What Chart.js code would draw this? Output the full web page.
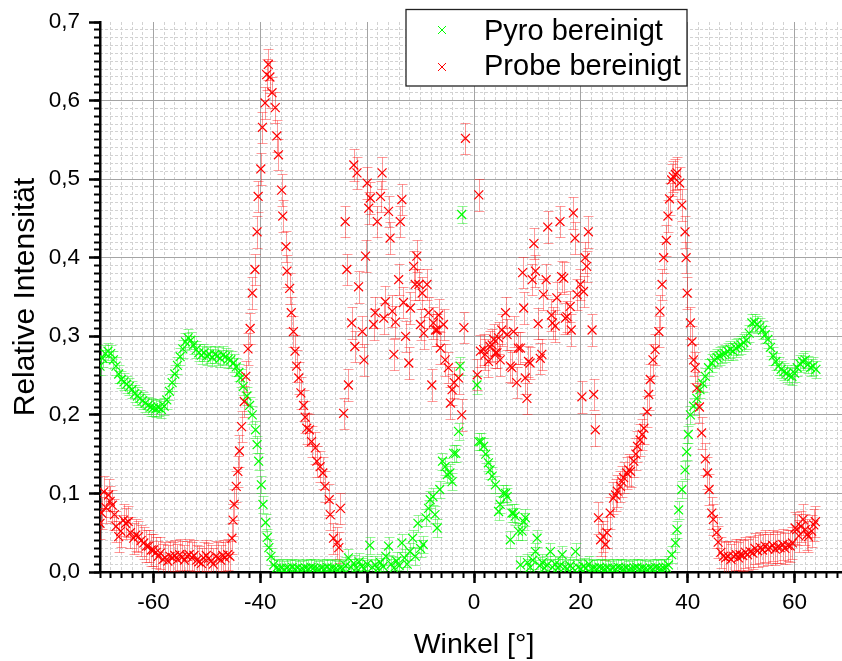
<!DOCTYPE html>
<html><head><meta charset="utf-8">
<script src="https://cdn.jsdelivr.net/npm/chart.js@4/dist/chart.umd.min.js"></script>
<style>html,body{margin:0;padding:0;overflow:hidden;background:#fff}canvas{display:block}</style>
</head><body>
<canvas id="c" width="860" height="661"></canvas>
<script>
const seriesLabels = ['Pyro bereinigt', 'Probe bereinigt'];
const xTitle = 'Winkel [°]';
const yTitle = 'Relative Intensität';
const xTicks = [-60, -40, -20, 0, 20, 40, 60];
const yTicks = [0, 0.1, 0.2, 0.3, 0.4, 0.5, 0.6, 0.7];

const pyroX = [-70,-69.5,-69,-68.5,-68,-67.5,-67,-66.5,-66,-65.5,-65,-64.5,-64,-63.5,-63,-62.5,-62,-61.5,-61,-60.5,-60,-59.5,-59,-58.5,-58,-57.5,-57,-56.5,-56,-55.5,-55,-54.5,-54,-53.5,-53,-52.5,-52,-51.5,-51,-50.5,-50,-49.5,-49,-48.5,-48,-47.5,-47,-46.5,-46,-45.5,-45,
-44.5,-44,-43.7,-43.2,-42.5,-42,-41.5,-40.9,-40.6,-40.3,-39.8,-39.5,-39,-38.7,-38.4,-38,-37.5,-37,
-36.5,-36,-35.5,-35,-34.5,-34,-33.5,-33,-32.5,-32,-31.5,-31,-30.5,-30,-29.5,-29,-28.5,-28,-27.5,-27,-26.5,-26,-25.5,-25,-24.5,
-24,-23.5,-23,-22.5,-22,-21.5,-21,-20.5,-20,-19.5,-19,-18.5,-18,-17.5,-17,-16.5,-16,-15.5,-15,-14.5,-14,-13.5,-13,-12.5,-12,-11.5,-11,-10.5,-10,-9.5,-9,-8.5,-8.2,-7.7,-7.3,-6.9,-6.4,-5.9,-5.4,-5.0,-4.5,-4.1,-3.8,-3.4,-2.9,-2.6,-2.3,
0.55,0.9,1.3,1.8,2.2,2.7,3.0,3.4,4.0,4.6,4.9,5.5,5.9,6.2,6.8,7.1,7.4,7.7,8.3,8.7,9.0,9.3,9.6,10.0,10.5,11.0,11.5,11.8,12.3,12.8,13.2,13.7,14.3,14.7,15.2,15.7,16.1,16.5,17.0,17.5,18.0,18.5,19.0,19.5,20.0,20.5,21.0,21.5,22.0,
22.5,23,23.5,24,24.5,25,25.5,26,26.5,27,27.5,28,28.5,29,29.5,30,30.5,31,31.5,32,32.5,33,33.5,34,34.5,35,35.5,36,
36.4,37.0,37.7,38.0,38.3,38.9,39.5,39.8,40.1,40.5,41.1,41.7,42.3,42.8,43.3,43.9,44.5,45.0,45.5,46.0,46.5,47.0,47.5,48.0,48.5,49.0,49.5,50.0,50.5,51.0,51.5,52.0,52.5,53.0,53.5,54.0,54.5,55.0,55.5,56.0,56.5,57.0,57.5,58.0,58.5,59.0,59.5,60.0,60.5,61.0,61.5,62.0,62.5,63.0,63.5,64.0];
const pyroY = [.262,.272,.278,.281,.278,.270,.262,.252,.245,.242,.239,.236,.232,.227,.224,.221,.218,.215,.212,.210,.209,.208,.209,.207,.211,.219,.230,.241,.252,.263,.274,.284,.293,.298,.295,.289,.283,.279,.276,.279,.275,.277,.273,.277,.275,.272,.276,.274,.271,.270,.266,
.261,.254,.247,.236,.224,.212,.200,.181,.162,.141,.111,.086,.063,.044,.031,.020,.009,.005,
.004,.005,.003,.005,.004,.006,.004,.005,.003,.004,.005,.004,.006,.005,.004,.003,.005,.004,.006,.004,.005,.004,.003,.005,.004,
.008,.018,.006,.011,.005,.013,.007,.004,.010,.034,.006,.009,.004,.012,.007,.020,.033,.010,.005,.014,.008,.037,.018,.010,.026,.043,.020,.062,.030,.035,.069,.081,.092,.096,.073,.056,.105,.141,.134,.124,.126,.115,.151,.151,.179,.262,.455,
.238,.166,.166,.160,.150,.139,.130,.122,.111,.077,.086,.100,.100,.096,.041,.075,.075,.071,.052,.009,.052,.064,.069,.012,.006,.015,.026,.043,.008,.012,.005,.009,.026,.006,.010,.005,.008,.022,.006,.004,.008,.005,.026,.006,.004,.007,.005,.010,.004,
.005,.004,.006,.005,.004,.005,.003,.005,.004,.006,.005,.004,.005,.003,.004,.005,.006,.004,.005,.004,.003,.005,.004,.006,.005,.004,.005,.006,
.009,.022,.037,.054,.079,.105,.130,.153,.175,.200,.211,.221,.232,.240,.249,.260,.266,.270,.273,.275,.277,.278,.281,.283,.281,.285,.287,.289,.292,.295,.304,.317,.318,.315,.312,.308,.302,.296,.286,.275,.268,.262,.258,.255,.253,.250,.249,.253,.260,.265,.268,.270,.264,.260,.262,.258];

const probeX = [-70.0,-69.7,-69.3,-68.9,-68.4,-68.1,-67.7,-67.3,-67.0,-66.5,-66.1,-65.6,-65.2,-64.7,-64.3,-63.7,-63.3,-62.8,-62.3,-61.8,-61.3,-60.9,-60.4,-60.0,-59.5,-59.1,-58.7,-58.2,-57.8,-57.3,-56.9,-56.4,-56.0,-55.5,-55.1,-54.6,-54.2,-53.7,-53.3,-52.8,-52.4,-51.9,-51.5,-51.0,-50.6,-50.1,-49.7,-49.2,-48.8,-48.3,-47.9,-47.4,-47.0,-46.6,-46.1,-45.7,
-45.3,-45.1,-44.9,-44.5,-44.2,-43.9,-43.5,-43.0,-42.7,-42.3,-41.9,-41.5,-41.0,-40.6,-40.4,-39.9,-39.6,-39.1,-38.8,-38.5,-38.2,-37.8,-37.2,-36.9,-36.6,-36.0,-35.8,-35.2,-35.0,-34.5,-34.2,-33.8,-33.5,-33.2,-32.8,-32.4,-31.9,-31.6,-31.3,-30.8,-30.4,-29.7,-29.4,-28.8,-28.3,-27.9,-27.1,-26.9,-26.3,-25.6,-25.3,-25.0,
-24.4,-24.1,-23.8,-23.5,-22.9,-22.5,-22.3,-21.9,-21.6,-20.9,-20.6,-20.3,-20.0,-19.7,-19.4,-18.8,-18.5,-18.1,-17.5,-17.2,-16.9,-16.6,-16.0,-15.7,-15.3,-15.0,-14.7,-14.1,-13.8,-13.5,-13.2,-12.8,-12.2,-11.9,-11.3,-11.0,-10.7,-10.3,-10.0,-9.7,-9.4,-8.8,-8.5,-7.9,-7.6,-7.2,-6.9,-6.6,-6.3,-5.7,-5.4,-4.8,-4.4,-4.1,-3.7,-2.9,-2.3,-1.9,-1.6,0.6,
0.9,1.2,1.8,2.1,2.7,3.0,3.4,3.7,4.0,4.3,4.6,4.9,5.2,5.9,6.2,6.8,7.1,7.4,8.0,8.3,8.7,9.1,9.3,9.6,9.9,10.2,10.5,10.9,11.2,11.5,12.0,12.4,12.7,13.0,13.5,13.8,14.5,14.7,15.2,15.5,16.1,16.4,16.8,17.1,17.4,18.0,18.2,18.6,18.9,19.3,19.9,20.2,20.5,20.8,21.1,21.4,22.1,22.4,22.7,
23.3,23.7,24.2,24.6,24.9,25.5,26.1,26.5,26.8,27.4,27.7,28.0,28.6,29.0,29.3,29.9,30.3,30.6,31.1,31.5,31.8,32.4,32.7,33.0,33.5,33.9,34.6,34.8,35.2,35.5,36.0,36.3,36.6,37.0,37.3,37.7,38.0,38.5,38.9,39.5,39.7,39.9,40.5,40.8,41.1,41.4,41.7,42.2,42.6,43.3,43.7,44.0,44.5,44.8,45.4,45.7,46.2,46.7,47.1,47.6,48.1,48.6,49.1,49.5,49.8,50.3,50.8,51.2,51.7,52.2,52.6,53.1,53.6,54.0,54.5,55.0,55.4,55.9,56.4,56.8,57.3,57.8,58.2,58.7,59.2,59.6,60.1,60.4,60.8,61.2,61.6,62.0,62.4,62.6,63.2,63.6,63.9];
const probeY = [.062,.075,.102,.082,.098,.090,.085,.073,.058,.045,.052,.066,.062,.064,.050,.043,.047,.045,.040,.037,.033,.033,.028,.028,.025,.020,.024,.016,.018,.014,.020,.018,.021,.016,.022,.019,.015,.020,.022,.018,.021,.015,.013,.011,.018,.021,.017,.014,.010,.020,.018,.015,.021,.018,.022,.020,
.043,.066,.086,.109,.128,.154,.185,.217,.249,.284,.310,.355,.385,.433,.478,.513,.566,.597,.633,.646,.630,.610,.591,.555,.531,.486,.453,.414,.383,.361,.330,.306,.281,.262,.247,.228,.212,.197,.183,.181,.166,.158,.141,.134,.126,.109,.092,.073,.043,.037,.031,.081,
.202,.446,.385,.238,.317,.518,.287,.508,.363,.306,.270,.402,.495,.463,.476,.315,.330,.446,.478,.508,.323,.344,.459,.425,.332,.277,.318,.372,.446,.474,.343,.300,.266,.336,.389,.366,.402,.366,.315,.355,.304,.366,.330,.238,.317,.308,.308,.327,.285,.315,.270,.260,.215,.232,.241,.247,.200,.311,.552,.251,
.480,.281,.283,.277,.268,.287,.289,.296,.279,.279,.298,.270,.308,.330,.302,.262,.260,.306,.241,.285,.285,.381,.336,.247,.221,.268,.266,.372,.418,.383,.316,.272,.277,.353,.372,.439,.327,.317,.313,.349,.446,.376,.374,.323,.325,.338,.308,.457,.425,.353,.366,.223,.357,.400,.389,.433,.308,.226,.181,
.069,.041,.045,.035,.050,.075,.094,.098,.103,.109,.115,.120,.126,.130,.128,.141,.150,.160,.168,.175,.183,.204,.226,.245,.270,.283,.306,.332,.366,.400,.422,.453,.475,.499,.503,.506,.508,.495,.467,.433,.400,.355,.317,.293,.270,.260,.234,.210,.177,.144,.126,.105,.075,.067,.050,.038,.025,.020,.018,.020,.016,.020,.022,.018,.022,.021,.025,.022,.026,.024,.030,.027,.031,.028,.033,.029,.031,.034,.029,.032,.031,.035,.030,.034,.033,.037,.056,.054,.046,.058,.067,.054,.048,.045,.052,.060,.064];

const pyroErr = 0.011;
const probeErr = 0.02;

const FONT = "'Liberation Sans', Arial, Helvetica, sans-serif";
const toPts = (xs, ys) => xs.map((x, i) => ({x: x, y: ys[i]}));

const errorBars = {
  id: 'errorBars',
  beforeDatasetsDraw(chart) {
    const {ctx, chartArea} = chart;
    const xs = chart.scales.x, ys = chart.scales.y;
    ctx.save();
    ctx.beginPath();
    ctx.rect(chartArea.left, chartArea.top, chartArea.right - chartArea.left, chartArea.bottom - chartArea.top);
    ctx.clip();
    ctx.lineWidth = 1;
    [1, 0].forEach(di => {
      const ds = chart.data.datasets[di];
      ctx.strokeStyle = ds.errColor;
      ds.data.forEach(p => {
        const px = Math.round(xs.getPixelForValue(p.x)) + 0.5;
        const yt = Math.round(ys.getPixelForValue(p.y + ds.err)) + 0.5;
        const yb = Math.round(ys.getPixelForValue(p.y - ds.err)) + 0.5;
        ctx.beginPath();
        ctx.moveTo(px, yt); ctx.lineTo(px, yb);
        ctx.moveTo(px - 5, yt); ctx.lineTo(px + 5, yt);
        ctx.moveTo(px - 5, yb); ctx.lineTo(px + 5, yb);
        ctx.stroke();
      });
    });
    ctx.restore();
  }
};

const legendBox = {
  id: 'legendBox',
  afterDraw(chart) {
    const ctx = chart.ctx;
    ctx.save();
    ctx.fillStyle = '#ffffff';
    ctx.fillRect(406, 9.5, 281, 76.5);
    ctx.strokeStyle = '#222';
    ctx.lineWidth = 1.3;
    ctx.strokeRect(406, 9.5, 281, 76.5);
    const rows = [{my: 30, by: 39.5}, {my: 67, by: 75}];
    chart.data.datasets.forEach((ds, i) => {
      const r = rows[i];
      ctx.strokeStyle = ds.borderColor;
      ctx.lineWidth = 1;
      ctx.beginPath();
      ctx.moveTo(438, r.my - 4); ctx.lineTo(446, r.my + 4);
      ctx.moveTo(446, r.my - 4); ctx.lineTo(438, r.my + 4);
      ctx.stroke();
      ctx.fillStyle = '#000';
      ctx.font = '29px ' + FONT;
      ctx.textBaseline = 'alphabetic';
      ctx.textAlign = 'left';
      ctx.fillText(ds.label, 484, r.by);
    });
    ctx.restore();
  }
};

const tickFont = {family: FONT, size: 22.5};

new Chart(document.getElementById('c'), {
  type: 'scatter',
  data: {
    datasets: [
      {label: seriesLabels[0], data: toPts(pyroX, pyroY), err: pyroErr, errColor: 'rgba(0,235,0,0.42)',
       borderColor: '#00ff00', backgroundColor: '#00ff00', pointStyle: 'crossRot', pointRadius: 6.3,
       pointBorderWidth: 1.2, showLine: false, xAxisID: 'x', yAxisID: 'y', order: 1},
      {label: seriesLabels[1], data: toPts(probeX, probeY), err: probeErr, errColor: 'rgba(255,0,0,0.40)',
       borderColor: '#ff0000', backgroundColor: '#ff0000', pointStyle: 'crossRot', pointRadius: 6.3,
       pointBorderWidth: 1.2, showLine: false, xAxisID: 'x', yAxisID: 'y', order: 0}
    ]
  },
  options: {
    responsive: false,
    animation: false,
    events: [],
    layout: {padding: {left: 0, top: 22, right: 12, bottom: 0}},
    plugins: {legend: {display: false}, tooltip: {enabled: false}},
    scales: {
      xm: {
        type: 'linear', position: 'bottom', min: -70, max: 70, weight: 0, bounds: 'data',
        ticks: {display: false, stepSize: 2},
        afterFit: s => { s.height = 0; s.paddingLeft = 0; s.paddingRight = 0; },
        grid: {color: '#d2d2d2', lineWidth: 1, tickColor: '#000', tickLength: 6, tickWidth: 2},
        border: {display: false, dash: [3, 2]}
      },
      ym: {
        type: 'linear', position: 'left', min: 0, max: 0.7, weight: 0, bounds: 'data',
        ticks: {display: false, stepSize: 0.01},
        afterFit: s => { s.width = 0; s.paddingTop = 0; s.paddingBottom = 0; },
        grid: {color: c => (c.tick && c.tick.value > 0.695) ? 'rgba(0,0,0,0)' : '#d2d2d2',
               lineWidth: 1, tickColor: '#000', tickLength: 6, tickWidth: 2},
        border: {display: false, dash: [3, 2]}
      },
      x: {
        type: 'linear', position: 'bottom', min: -70, max: 70, weight: 1, bounds: 'data',
        afterBuildTicks: s => { s.ticks = xTicks.map(v => ({value: v})); },
        afterFit: s => { s.height = 89; s.paddingLeft = 0; s.paddingRight = 0; },
        ticks: {font: tickFont, color: '#000', padding: 6, maxRotation: 0, autoSkip: false,
                callback: v => String(v)},
        grid: {color: '#a4a4a4', lineWidth: 1, tickColor: '#000', tickLength: 11, tickWidth: 2.5},
        border: {display: true, color: '#000', width: 2.5},
        title: {display: true, text: xTitle, color: '#000', font: {family: FONT, size: 28.5},
                padding: {top: 0, bottom: -1}}
      },
      y: {
        type: 'linear', position: 'left', min: 0, max: 0.7, weight: 1, bounds: 'data',
        afterBuildTicks: s => { s.ticks = yTicks.map(v => ({value: v})); },
        afterFit: s => { s.width = 100; s.paddingTop = 0; s.paddingBottom = 0; },
        ticks: {font: tickFont, color: '#000', padding: 9, autoSkip: false,
                callback: v => Number(v).toFixed(1).replace('.', ',')},
        grid: {color: c => (c.tick && c.tick.value > 0.65) ? 'rgba(0,0,0,0)' : '#a4a4a4',
               lineWidth: 1, tickColor: '#000', tickLength: 11, tickWidth: 2.5},
        border: {display: true, color: '#000', width: 2.5},
        title: {display: true, text: yTitle, color: '#000', font: {family: FONT, size: 30},
                padding: {top: 8, bottom: 0}}
      }
    }
  },
  plugins: [errorBars, legendBox]
});
</script>
</body></html>
